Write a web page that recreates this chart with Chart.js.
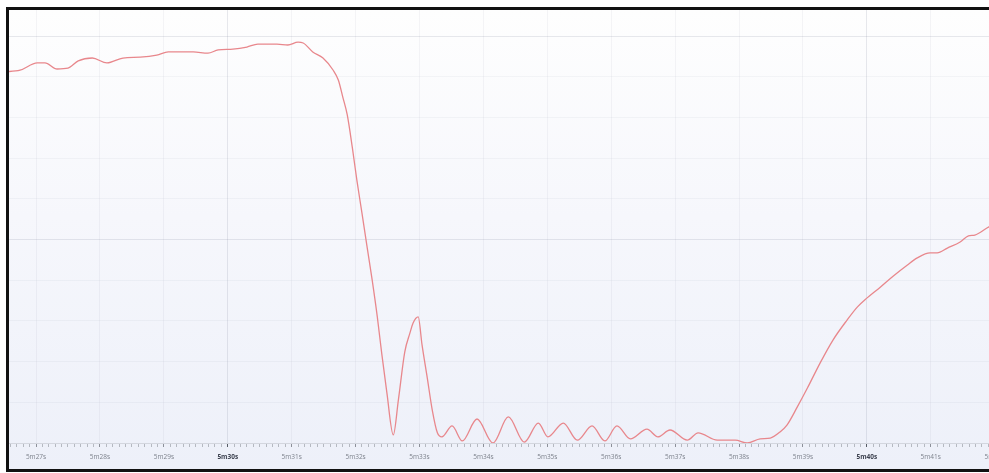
<!DOCTYPE html>
<html>
<head>
<title>Signal trace 5m27s - 5m41s</title>
<script src="https://cdn.jsdelivr.net/npm/chart.js"></script>
<style>
    body {
        margin: 0;
        background: #fff;
        overflow: hidden;
        width: 989px;
        height: 473px;
    }
    #frame {
        position: absolute;
        left: 6px;
        top: 7px;
        width: 1001px;
        height: 459px;
        border: 3px solid #111;
        border-right: none;
        background: linear-gradient(to bottom, #fefefe 0%, #f6f7fc 45%, #edf0f9 100%);
    }
</style>
</head>
<body>
<div id="frame">
    <canvas id="trace" width="1001" height="459"></canvas>
</div>
<script>
    // time in seconds (5m27s = 327) and signal level
    const timeSec = [
        326.50, 326.75, 327.02, 327.14, 327.33, 327.50, 327.66, 327.88, 328.11, 328.36,
        328.63, 328.89, 329.07, 329.46, 329.69, 329.85, 330.08, 330.30, 330.47, 330.77,
        330.94, 331.10, 331.18, 331.33, 331.49, 331.65, 331.73, 331.80, 331.87, 331.95,
        332.02, 332.10, 332.18, 332.26, 332.34, 332.41, 332.49, 332.59, 332.67, 332.77,
        332.85, 332.90, 332.98, 333.04, 333.12, 333.20, 333.28, 333.35, 333.51, 333.67,
        333.90, 334.15, 334.39, 334.64, 334.86, 335.01, 335.25, 335.47, 335.70, 335.90,
        336.09, 336.30, 336.56, 336.73, 336.92, 337.19, 337.36, 337.66, 337.94, 338.13,
        338.33, 338.49, 338.64, 338.75, 338.91, 339.07, 339.27, 339.47, 339.69, 339.85,
        340.00, 340.21, 340.41, 340.63, 340.79, 340.99, 341.10, 341.26, 341.46, 341.59,
        341.69, 341.91, 342.10, 342.30
    ];
    const level = [
        9.12, 9.16, 9.34, 9.34, 9.19, 9.21, 9.39, 9.46, 9.34, 9.46,
        9.48, 9.53, 9.61, 9.61, 9.58, 9.66, 9.68, 9.73, 9.80, 9.80,
        9.78, 9.85, 9.83, 9.61, 9.46, 9.16, 8.92, 8.50, 8.06, 7.25,
        6.46, 5.65, 4.82, 4.00, 3.10, 2.19, 1.23, 0.20, 1.06, 2.24,
        2.70, 2.95, 3.10, 2.41, 1.62, 0.81, 0.25, 0.15, 0.42, 0.05,
        0.59, 0.00, 0.64, 0.02, 0.49, 0.15, 0.49, 0.07, 0.42, 0.05,
        0.42, 0.10, 0.34, 0.15, 0.32, 0.07, 0.25, 0.07, 0.07, 0.00,
        0.10, 0.12, 0.27, 0.44, 0.88, 1.35, 1.97, 2.53, 3.02, 3.34,
        3.56, 3.83, 4.10, 4.37, 4.55, 4.67, 4.67, 4.79, 4.94, 5.09,
        5.11, 5.31, 5.42, 5.55
    ];
    const xRange = [326.577, 342.24];
    const yRange = [0, 10.64];

    const isWhole = v => Math.abs(v - Math.round(v)) < 1e-6;
    const isMajor = v => isWhole(v) && Math.round(v) % 10 === 0;
    const fmtTime = v => Math.floor(v / 60) + 'm' + Math.round(v % 60) + 's';

    // no extra room around the plot, the frame does the border
    const noPad = scale => {
        scale.paddingLeft = 0;
        scale.paddingRight = 0;
        scale.paddingTop = 0;
        scale.paddingBottom = 0;
    };

    new Chart(document.getElementById('trace'), {
        type: 'line',
        data: {
            datasets: [{
                data: timeSec.map((t, i) => ({ x: t, y: level[i] })),
                borderColor: '#e8878c',
                borderWidth: 1.3,
                pointRadius: 0,
                cubicInterpolationMode: 'monotone',
                fill: false
            }]
        },
        options: {
            responsive: false,
            animation: false,
            layout: { padding: 0 },
            plugins: {
                legend: { display: false },
                tooltip: { enabled: false }
            },
            scales: {
                x: {
                    type: 'linear',
                    min: xRange[0],
                    max: xRange[1],
                    afterBuildTicks: scale => {
                        const ticks = [];
                        for (let k = Math.ceil(scale.min * 10); k <= Math.floor(scale.max * 10); k++) {
                            ticks.push({ value: k / 10 });
                        }
                        scale.ticks = ticks;
                    },
                    afterFit: scale => { scale.height = 26; noPad(scale); },
                    border: { display: true, color: '#d3d6de' },
                    grid: {
                        color: c => {
                            const v = c.tick ? c.tick.value : 0;
                            if (!isWhole(v)) return 'rgba(0,0,0,0)';
                            return isMajor(v) ? 'rgba(110,120,140,0.16)' : 'rgba(110,120,140,0.07)';
                        },
                        tickColor: c => {
                            const v = c.tick ? c.tick.value : 0;
                            if (isWhole(v)) return isMajor(v) ? '#555a63' : '#8c9099';
                            return '#b5b9c1';
                        },
                        tickLength: 4
                    },
                    ticks: {
                        autoSkip: false,
                        maxRotation: 0,
                        padding: 6,
                        color: c => (c.tick && isMajor(c.tick.value)) ? '#3d4250' : '#7d828c',
                        font: c => ({
                            family: "'Open Sans', sans-serif",
                            size: 6.5,
                            weight: (c.tick && isMajor(c.tick.value)) ? 'bold' : 'normal'
                        }),
                        callback: v => isWhole(v) ? fmtTime(v) : ''
                    }
                },
                y: {
                    min: yRange[0],
                    max: yRange[1],
                    afterFit: scale => { scale.width = 0; noPad(scale); },
                    border: { display: false },
                    grid: {
                        drawTicks: false,
                        color: c => {
                            const v = c.tick ? c.tick.value : 0;
                            if (!isWhole(v) || v === 0) return 'rgba(0,0,0,0)';
                            return Math.round(v) % 5 === 0 ? 'rgba(110,120,140,0.16)' : 'rgba(110,120,140,0.06)';
                        }
                    },
                    ticks: { display: false, stepSize: 1 }
                }
            }
        }
    });
</script>
</body>
</html>
